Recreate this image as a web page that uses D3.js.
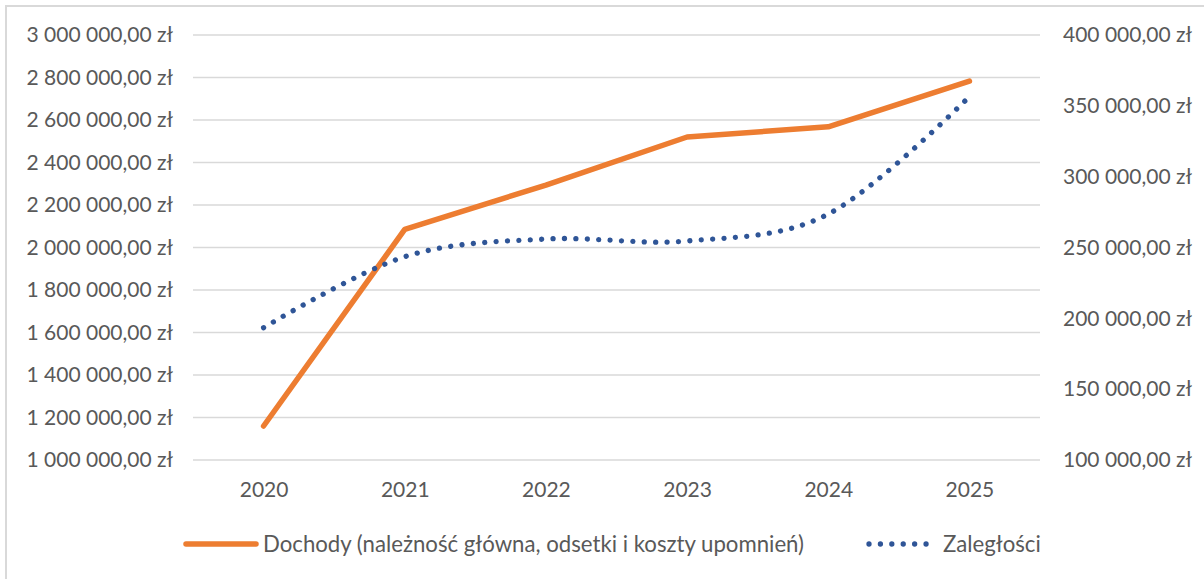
<!DOCTYPE html>
<html>
<head>
<meta charset="utf-8">
<script src="https://cdn.jsdelivr.net/npm/d3@7"></script>
<style>
  body { margin: 0; background: #fff; }
  text { font-family: Lato, "Open Sans", sans-serif; fill: #595959; }
  .tick_lab { font-size: 21px; }
  .leg_lab { font-size: 22.2px; }
</style>
</head>
<body>
<script>
// chart size
var w = 1204;
var h = 579;

// data
var years = ["2020", "2021", "2022", "2023", "2024", "2025"];
var dochody = [1160000, 2085000, 2294000, 2520000, 2568000, 2783000];
var zaleglosci = [193400, 243500, 256000, 254600, 273600, 356500];

// tick values
var ticksLeft = [1000000, 1200000, 1400000, 1600000, 1800000, 2000000,
                 2200000, 2400000, 2600000, 2800000, 3000000];
var ticksRight = [100000, 150000, 200000, 250000, 300000, 350000, 400000];

var legendNames = ["Dochody (należność główna, odsetki i koszty upomnień)", "Zaległości"];

// plot area
var pL = 193, pR = 1040, pT = 35, pB = 460;

var colOrange = "#ED7D31";
var colBlue = "#2F5597";

// "3 000 000,00 zł"
var fmtZl = function(v) {
    var s = d3.format(",.2f")(v);
    return s.replace(/,/g, " ").replace(".", ",") + " zł";
};

var scaleX = d3.scalePoint()
               .domain(years)
               .range([pL, pR])
               .padding(0.5);
var scaleYL = d3.scaleLinear()
                .domain([1000000, 3000000])
                .range([pB, pT]);
var scaleYR = d3.scaleLinear()
                .domain([100000, 400000])
                .range([pB, pT]);

var svg = d3.select("body")
            .append("svg")
            .attr("width", w)
            .attr("height", h);

// chart border (only left and top show in the frame)
svg.append("rect")
   .attr("x", 6)
   .attr("y", 6)
   .attr("width", w + 20)
   .attr("height", h + 20)
   .attr("fill", "#fff")
   .attr("stroke", "#D9D9D9")
   .attr("stroke-width", 2);

// gridlines
svg.append("g")
   .selectAll("line")
   .data(ticksLeft)
   .enter()
   .append("line")
   .attr("x1", pL)
   .attr("x2", pR)
   .attr("y1", function(d) { return scaleYL(d); })
   .attr("y2", function(d) { return scaleYL(d); })
   .attr("stroke", "#D9D9D9")
   .attr("stroke-width", 1.5);

// left axis
var axisL = d3.axisLeft(scaleYL)
              .tickValues(ticksLeft)
              .tickSize(0)
              .tickPadding(20)
              .tickFormat(fmtZl);
var gL = svg.append("g")
            .attr("transform", "translate(" + pL + ",0)")
            .call(axisL);

// right axis
var axisR = d3.axisRight(scaleYR)
              .tickValues(ticksRight)
              .tickSize(0)
              .tickPadding(23)
              .tickFormat(fmtZl);
var gR = svg.append("g")
            .attr("transform", "translate(" + pR + ",0)")
            .call(axisR);

// bottom axis
var axisX = d3.axisBottom(scaleX)
              .tickSize(0)
              .tickPadding(22);
var gX = svg.append("g")
            .attr("transform", "translate(0," + pB + ")")
            .call(axisX);

[gL, gR, gX].forEach(function(g) {
    g.select(".domain").remove();
    g.selectAll("text")
     .attr("class", "tick_lab")
     .attr("fill", "#595959");
    g.attr("font-family", null).attr("font-size", null);
});

// lines
var lineL = d3.line()
              .x(function(d, i) { return scaleX(years[i]); })
              .y(function(d) { return scaleYL(d); });
var lineR = d3.line()
              .x(function(d, i) { return scaleX(years[i]); })
              .y(function(d) { return scaleYR(d); })
              .curve(d3.curveCardinal.tension(0));

svg.append("path")
   .attr("d", lineL(dochody))
   .attr("fill", "none")
   .attr("stroke", colOrange)
   .attr("stroke-width", 5.5)
   .attr("stroke-linecap", "round")
   .attr("stroke-linejoin", "round");

svg.append("path")
   .attr("d", lineR(zaleglosci))
   .attr("fill", "none")
   .attr("stroke", colBlue)
   .attr("stroke-width", 5.3)
   .attr("stroke-linecap", "round")
   .attr("stroke-dasharray", "0.01 11.4");

// legend
var legY = 544;
svg.append("line")
   .attr("x1", 186)
   .attr("x2", 256)
   .attr("y1", legY)
   .attr("y2", legY)
   .attr("stroke", colOrange)
   .attr("stroke-width", 5.5)
   .attr("stroke-linecap", "round");
svg.append("text")
   .attr("class", "leg_lab")
   .attr("x", 263)
   .attr("y", legY)
   .attr("dy", "0.35em")
   .text(legendNames[0]);

svg.append("line")
   .attr("x1", 869)
   .attr("x2", 937)
   .attr("y1", legY)
   .attr("y2", legY)
   .attr("stroke", colBlue)
   .attr("stroke-width", 5.3)
   .attr("stroke-linecap", "round")
   .attr("stroke-dasharray", "0.01 11.4");
svg.append("text")
   .attr("class", "leg_lab")
   .attr("x", 943)
   .attr("y", legY)
   .attr("dy", "0.35em")
   .text(legendNames[1]);
</script>
</body>
</html>
